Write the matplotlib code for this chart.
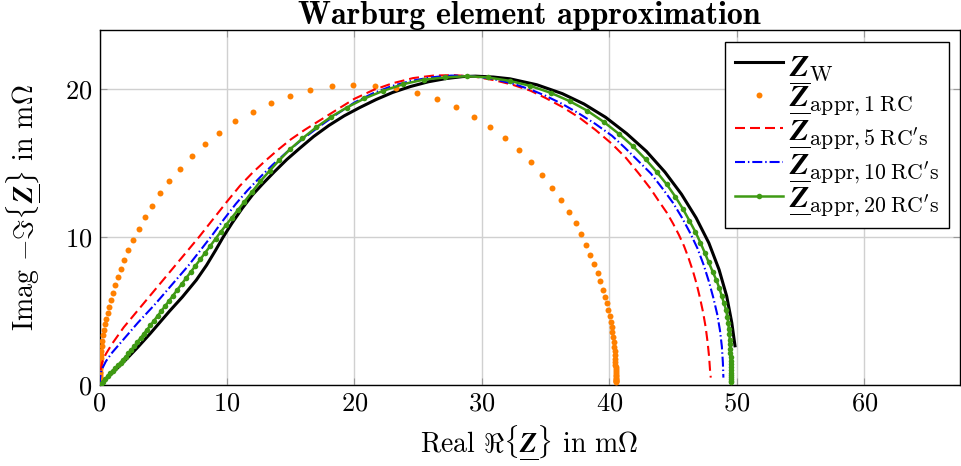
import matplotlib.pyplot as plt

# Nyquist curves: (real, -imag) in mOhm

# exact Warburg element
warburg_pts = [(0, 0), (1.0, 0.8), (2.0, 1.65), (3.0, 2.55), (4.0, 3.5), (4.6, 4.1),
               (5.5, 5.0), (6.5, 5.95), (7.6, 7.1), (8.4, 8.1), (9.1, 9.1), (9.7, 10.0),
               (10.4, 10.95), (11.2, 11.95), (12.0, 12.85), (12.8, 13.6), (13.7, 14.4),
               (14.7, 15.25), (15.7, 16.0), (16.8, 16.8), (18.0, 17.55), (19.2, 18.2),
               (20.4, 18.75), (21.7, 19.3), (23.0, 19.78), (24.4, 20.18), (25.8, 20.5),
               (27.2, 20.72), (28.5, 20.85), (29.5, 20.88), (30.9, 20.82), (32.2, 20.7),
               (34.3, 20.3), (36.3, 19.7), (38.0, 19.0), (39.7, 18.1), (41.35, 17.0),
               (42.9, 15.8), (44.35, 14.4), (45.65, 12.9), (46.8, 11.3), (47.8, 9.6),
               (48.6, 7.8), (49.2, 6.0), (49.6, 4.2), (49.85, 2.65)]

# one RC element (dots at the sampled frequencies)
rc1_pts = [(0.0005, 0.14), (0.001, 0.2), (0.002, 0.28), (0.003, 0.35), (0.0045, 0.43),
           (0.006, 0.49), (0.008, 0.57), (0.011, 0.67), (0.015, 0.78), (0.02, 0.9),
           (0.027, 1.05), (0.035, 1.19), (0.045, 1.35), (0.06, 1.56), (0.08, 1.8),
           (0.10, 2.01), (0.13, 2.29), (0.17, 2.62), (0.22, 2.98), (0.28, 3.37),
           (0.34, 3.75), (0.44, 4.1), (0.52, 4.44), (0.63, 4.84), (0.76, 5.29),
           (0.91, 5.74), (1.07, 6.24), (1.23, 6.73), (1.44, 7.27), (1.70, 7.84),
           (1.96, 8.45), (2.25, 9.12), (2.61, 9.82), (3.08, 10.56), (3.55, 11.33),
           (4.12, 12.12), (4.78, 12.95), (5.48, 13.78), (6.29, 14.62), (7.26, 15.45),
           (8.25, 16.28), (9.40, 17.07), (10.65, 17.82), (12.01, 18.49), (13.47, 19.08),
           (14.96, 19.55), (16.52, 19.93), (18.22, 20.20), (19.92, 20.27), (21.61, 20.20),
           (23.26, 20.05), (24.88, 19.75), (26.47, 19.32), (27.96, 18.78), (29.34, 18.15),
           (30.62, 17.43), (31.82, 16.67), (32.92, 15.86), (33.88, 15.05), (34.75, 14.19),
           (35.53, 13.33), (36.23, 12.52), (36.83, 11.71), (37.35, 10.92), (37.80, 10.18),
           (38.19, 9.46), (38.50, 8.81), (38.81, 8.18), (39.10, 7.57), (39.29, 7.01),
           (39.49, 6.44), (39.65, 5.97), (39.78, 5.52), (39.91, 5.07), (40.02, 4.66),
           (40.12, 4.28), (40.20, 3.94), (40.24, 3.6), (40.29, 3.25), (40.33, 2.92),
           (40.37, 2.6), (40.4, 2.3), (40.42, 2.03), (40.44, 1.79), (40.46, 1.57),
           (40.47, 1.38), (40.48, 1.21), (40.49, 1.06), (40.495, 0.93), (40.497, 0.81),
           (40.499, 0.7), (40.5, 0.6), (40.5, 0.5), (40.5, 0.42), (40.5, 0.35),
           (40.5, 0.29), (40.5, 0.24), (40.5, 0.2)]

# chain of 5 RC elements
rc5_pts = [(0, 0), (0.05, 0.8), (0.2, 1.5), (0.5, 2.1), (1.0, 2.8), (1.9, 3.9), (3.3, 5.35),
           (4.8, 6.9), (6.3, 8.45), (7.8, 10.0), (8.9, 11.2), (10.0, 12.4), (11.0, 13.45),
           (12.0, 14.35), (13.0, 15.15), (14.0, 15.9), (15.0, 16.6), (16.1, 17.25),
           (17.3, 17.9), (18.6, 18.6), (20.0, 19.35), (21.5, 19.95), (23.0, 20.4),
           (24.6, 20.75), (26.2, 20.92), (27.8, 20.95), (29.4, 20.85), (31.0, 20.6),
           (32.4, 20.3), (33.8, 19.9), (35.0, 19.4), (36.3, 18.8), (37.6, 18.1),
           (38.9, 17.25), (40.2, 16.3), (41.3, 15.35), (42.3, 14.3), (43.2, 13.3),
           (43.9, 12.4), (44.5, 11.65), (45.0, 10.9), (45.45, 10.15), (45.85, 9.4),
           (46.2, 8.6), (46.55, 7.7), (46.85, 6.8), (47.1, 5.9), (47.35, 4.9), (47.55, 3.9),
           (47.7, 2.9), (47.82, 1.9), (47.9, 0.9), (47.95, 0.5)]

# chain of 10 RC elements
rc10_pts = [(0, 0), (0.05, 0.5), (0.15, 1.0), (0.5, 1.6), (1.0, 2.2), (1.8, 3.0), (3.0, 4.2),
            (4.4, 5.5), (5.7, 6.8), (7.0, 8.1), (8.0, 9.2), (8.9, 10.2), (9.8, 11.25),
            (10.7, 12.25), (11.6, 13.15), (12.6, 14.05), (13.6, 14.9), (14.7, 15.75),
            (15.9, 16.6), (17.2, 17.45), (18.6, 18.3), (20.0, 19.1), (21.4, 19.7),
            (22.9, 20.2), (24.4, 20.55), (26.0, 20.8), (27.6, 20.92), (29.2, 20.88),
            (30.8, 20.7), (32.4, 20.38), (33.8, 19.98), (35.0, 19.55), (36.3, 19.0),
            (37.6, 18.36), (38.9, 17.65), (40.2, 16.85), (41.2, 16.05), (42.2, 15.2),
            (43.25, 14.3), (44.15, 13.3), (45.0, 12.3), (45.7, 11.3), (46.35, 10.25),
            (46.9, 9.25), (47.4, 8.1), (47.8, 7.0), (48.15, 5.9), (48.45, 4.8),
            (48.67, 3.7), (48.82, 2.6), (48.9, 1.5), (48.94, 0.5)]

# chain of 20 RC elements (dots at the sampled frequencies)
rc20_pts = [(0, 0), (0.1, 0.09), (0.25, 0.23), (0.45, 0.41), (0.65, 0.6), (0.85, 0.78),
            (1.05, 0.97), (1.25, 1.15), (1.45, 1.34), (1.65, 1.52), (1.85, 1.71), (2.05, 1.9),
            (2.27, 2.13), (2.5, 2.38), (2.74, 2.64), (2.98, 2.91), (3.23, 3.18), (3.48, 3.46),
            (3.74, 3.75), (4.0, 4.04), (4.27, 4.34), (4.55, 4.66), (4.84, 4.99), (5.14, 5.33),
            (5.45, 5.68), (5.77, 6.05), (6.1, 6.43), (6.44, 6.82), (6.79, 7.22), (7.15, 7.63),
            (7.52, 8.05), (7.9, 8.49), (8.29, 8.94), (8.69, 9.4), (9.1, 9.88), (9.52, 10.36),
            (9.95, 10.84), (10.39, 11.32), (10.83, 11.8), (11.35, 12.37), (11.96, 13.05),
            (12.61, 13.76), (13.34, 14.48), (14.10, 15.20), (14.96, 15.95), (15.92, 16.67),
            (16.99, 17.41), (18.17, 18.13), (19.40, 18.76), (20.78, 19.37), (22.26, 19.89),
            (23.83, 20.34), (25.47, 20.65), (27.09, 20.79), (28.79, 20.88), (30.49, 20.79),
            (32.18, 20.56), (33.80, 20.22), (35.40, 19.75), (36.88, 19.19), (38.27, 18.54),
            (39.55, 17.79), (40.74, 16.98), (41.84, 16.15), (42.83, 15.27), (43.72, 14.39),
            (44.50, 13.56), (45.18, 12.72), (45.76, 11.91), (46.28, 11.10), (46.75, 10.34),
            (47.14, 9.62), (47.48, 8.94), (47.79, 8.29), (48.10, 7.66), (48.39, 7.09),
            (48.63, 6.53), (48.81, 6.01), (48.99, 5.52), (49.15, 5.07), (49.25, 4.62),
            (49.32, 4.2), (49.37, 3.8), (49.41, 3.42), (49.44, 3.07), (49.46, 2.75),
            (49.48, 2.45), (49.49, 2.17), (49.50, 1.9), (49.50, 1.65), (49.51, 1.42),
            (49.51, 1.2), (49.51, 1.0), (49.52, 0.82), (49.52, 0.66), (49.52, 0.52),
            (49.52, 0.4), (49.52, 0.3), (49.52, 0.22)]

x_ticks = [0, 10, 20, 30, 40, 50, 60]
y_ticks = [0, 10, 20]

# mathtext has no \underline, so put a bar under the bold Z by hand
Z = r"\underset{\overline{\quad}}{\boldsymbol{Z}}"
labels = [
    rf"${Z}_{{\mathrm{{W}}}}$",
    rf"${Z}_{{\mathrm{{appr}},1\;\mathrm{{RC}}}}$",
    rf"${Z}_{{\mathrm{{appr}},5\;\mathrm{{RC}}'\mathrm{{s}}}}$",
    rf"${Z}_{{\mathrm{{appr}},10\;\mathrm{{RC}}'\mathrm{{s}}}}$",
    rf"${Z}_{{\mathrm{{appr}},20\;\mathrm{{RC}}'\mathrm{{s}}}}$",
]

plt.rcParams["font.family"] = "serif"
plt.rcParams["font.serif"] = ["cmr10"]
plt.rcParams["mathtext.fontset"] = "cm"
plt.rcParams["axes.formatter.use_mathtext"] = True

fig = plt.figure(figsize=(9.61, 4.66), dpi=100)
ax = fig.add_axes([99.5 / 961, 81 / 466, 860.5 / 961, 355 / 466])


def unzip(pts):
    return [p[0] for p in pts], [p[1] for p in pts]


ax.plot(*unzip(warburg_pts), color="black", lw=2.2, label=labels[0], zorder=3)
ax.plot(*unzip(rc1_pts), ls="none", marker="o", ms=4.3, mew=0, color="#ff8000",
        label=labels[1], zorder=4)
ax.plot(*unzip(rc5_pts), color="red", lw=1.5, dashes=(4.8, 2.4), label=labels[2], zorder=5)
ax.plot(*unzip(rc10_pts), color="blue", lw=1.5, dashes=(4.8, 1.4, 0.7, 1.4),
        label=labels[3], zorder=6)
ax.plot(*unzip(rc20_pts), color="#3f9a14", lw=1.8, marker="o", ms=4.0, mew=0,
        label=labels[4], zorder=7)

ax.set_xlim(0, 67.5)
ax.set_ylim(0, 24)
ax.set_xticks(x_ticks)
ax.set_yticks(y_ticks)
ax.grid(True, color="#d0d0d0", lw=1.0)
ax.set_axisbelow(True)
ax.tick_params(direction="in", length=5, width=0.8, color="#999999", top=True,
               right=True, labelsize=19, pad=5)
for s in ax.spines.values():
    s.set_linewidth(1.0)

ax.set_xlabel(rf"Real $\Re\{{{Z}\}}$ in m$\Omega$", fontsize=20, labelpad=6)
ax.set_ylabel(rf"Imag $-\Im\{{{Z}\}}$ in m$\Omega$", fontsize=20)
ax.yaxis.set_label_coords(-0.067, 0.5)
ax.set_title("Warburg element approximation", fontfamily="cmb10", fontsize=23, pad=4)

leg = ax.legend(loc="upper right", bbox_to_anchor=(0.987, 0.967), fontsize=22.5,
                fancybox=False, framealpha=1, edgecolor="black", borderaxespad=0,
                handlelength=1.55, handletextpad=0.2, labelspacing=0.0, numpoints=1,
                borderpad=0.3)
leg.get_frame().set_linewidth(1.0)

fig.savefig("out.png", dpi=100)
